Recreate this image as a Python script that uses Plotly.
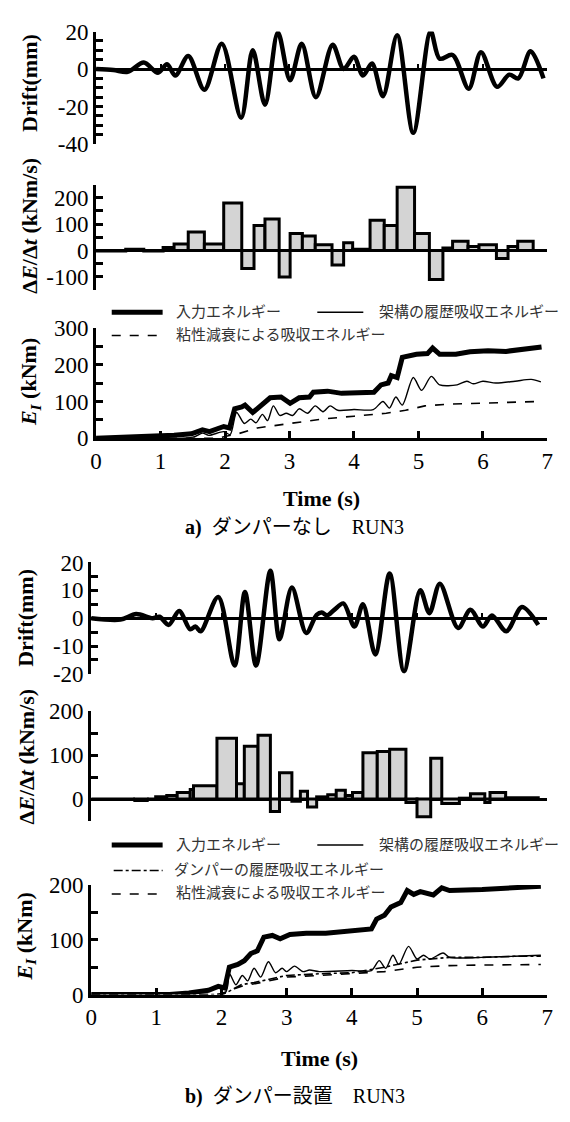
import plotly.graph_objects as go

W, H = 570, 1122

# ---------------- data: panel a (no damper) ----------------
a_drift_t = [0, 0.27, 0.49, 0.74, 0.96, 1.10, 1.23, 1.43, 1.68, 1.95, 2.25, 2.43, 2.62, 2.82, 3.01, 3.19, 3.41, 3.67,
             3.84, 4.00, 4.14, 4.28, 4.45, 4.67, 4.92, 5.19, 5.33, 5.53, 5.78, 5.97, 6.22, 6.41, 6.55, 6.74, 6.94]
a_drift_v = [0, -0.5, -1.5, 3.5, -2, 2.5, -3.5, 7, -11, 13.5, -26, 10, -19, 19.5, -6, 13.5, -15, 13,
             0, 6.5, -3.5, 3, -14.5, 18, -34, 20, 5.5, 7.5, -10.5, 9, -9.5, -3, -5, 9.5, -5]

a_de_edges = [0, 0.46, 0.74, 1.04, 1.21, 1.43, 1.68, 1.98, 2.26, 2.45, 2.62, 2.84, 3.01, 3.20, 3.40, 3.66, 3.84,
              3.98, 4.25, 4.47, 4.67, 4.94, 5.17, 5.38, 5.53, 5.77, 5.94, 6.21, 6.39, 6.54, 6.78]
a_de_vals = [-2, 5, -2, 12, 25, 70, 25, 180, -68, 95, 120, -100, 65, 55, 22, -55, 30, 5, 115, 95, 240, 65,
             -110, 10, 35, 15, 22, -30, 15, 35]

a_in_t = [0, 0.43, 0.93, 1.21, 1.48, 1.54, 1.65, 1.76, 1.87, 1.98, 2.07, 2.15, 2.26, 2.31, 2.43, 2.56, 2.70, 2.87,
          3.01, 3.15, 3.31, 3.37, 3.59, 3.81, 4.14, 4.31, 4.42, 4.53, 4.58, 4.67, 4.75, 4.97, 5.14, 5.22, 5.33,
          5.58, 5.80, 6.08, 6.36, 6.63, 6.91]
a_in_v = [0, 2, 4, 8, 12, 15, 23, 18, 24, 32, 28, 80, 85, 90, 70, 90, 110, 112, 95, 110, 112, 125, 128, 122, 122,
          125, 145, 150, 170, 165, 220, 228, 230, 245, 228, 228, 235, 238, 236, 243, 248]

a_str_t = [0, 1.5, 1.65, 1.75, 1.98, 2.08, 2.18, 2.30, 2.40, 2.48, 2.58, 2.66, 2.75, 2.85, 2.95, 3.05, 3.15, 3.28,
           3.40, 3.52, 3.63, 3.75, 4.0, 4.3, 4.45, 4.55, 4.65, 4.75, 4.92, 5.05, 5.20, 5.33, 5.6, 5.75, 5.85, 6.0,
           6.2, 6.5, 6.75, 6.9]
a_str_v = [0, 3, 14, 8, 18, 10, 70, 40, 52, 42, 65, 48, 88, 62, 68, 62, 80, 68, 88, 72, 88, 76, 78, 78, 100, 82,
           112, 90, 165, 130, 168, 145, 145, 155, 148, 155, 150, 155, 160, 153]

a_vis_t = [0, 1.9, 2.0, 2.2, 2.5, 3.0, 3.5, 4.0, 4.5, 4.8, 5.1, 5.5, 6.0, 6.5, 6.9]
a_vis_v = [0, 0, 5, 12, 28, 40, 52, 60, 68, 76, 88, 93, 96, 99, 100]

# ---------------- data: panel b (with damper) ----------------
b_drift_t = [0, 0.45, 0.69, 0.94, 1.05, 1.19, 1.35, 1.52, 1.60, 1.68, 1.95, 2.20, 2.36, 2.53, 2.75, 2.89, 3.08,
             3.30, 3.46, 3.54, 3.62, 3.73, 3.87, 4.04, 4.17, 4.36, 4.58, 4.80, 5.05, 5.19, 5.35, 5.63, 5.82, 6.01,
             6.15, 6.37, 6.61, 6.86]
b_drift_v = [0, -0.5, 1.5, 0, 0.5, -2.4, 2.6, -4, -3, -4.7, 7.6, -17, 9.4, -17, 17, -7.6, 11, -5.3, 1.2, 2, 1, 3,
             5.3, -3, 5, -13, 16, -19, 10, 1.8, 12.4, -3.5, 3, -3, 1, -4.7, 4, -2.4]

b_de_edges = [0, 0.67, 0.86, 0.99, 1.16, 1.32, 1.52, 1.57, 1.93, 2.23, 2.35, 2.56, 2.75, 2.89, 3.08, 3.21, 3.32,
              3.46, 3.63, 3.76, 3.90, 4.01, 4.17, 4.39, 4.58, 4.83, 5.00, 5.21, 5.38, 5.65, 5.82, 6.04, 6.12,
              6.36, 6.86]
b_de_vals = [0, -3, 0, 5, 8, 15, 22, 30, 138, 35, 120, 145, -28, 60, -5, 18, -18, 5, 10, 20, 8, 15, 105, 108,
             113, -8, -40, 93, -10, 2, 12, -8, 15, 3]

b_in_t = [0, 1.2, 1.5, 1.8, 1.95, 2.05, 2.12, 2.25, 2.35, 2.45, 2.55, 2.65, 2.78, 2.90, 3.05, 3.3, 3.6, 4.0, 4.3,
          4.38, 4.5, 4.6, 4.75, 4.85, 4.95, 5.05, 5.25, 5.38, 5.5, 6.0, 6.5, 6.9]
b_in_v = [0, 0, 3, 8, 15, 12, 50, 55, 62, 75, 80, 105, 108, 102, 110, 112, 112, 116, 120, 138, 145, 160, 168, 190,
          183, 188, 182, 195, 190, 192, 195, 198]

b_str_t = [0, 2.05, 2.12, 2.22, 2.32, 2.40, 2.50, 2.60, 2.72, 2.83, 2.93, 3.0, 3.12, 3.25, 3.35, 3.5, 4.0, 4.3,
           4.42, 4.52, 4.63, 4.72, 4.87, 5.0, 5.1, 5.2, 5.4, 5.5, 6.0, 6.5, 6.9]
b_str_v = [0, 2, 38, 18, 35, 25, 48, 32, 60, 40, 48, 42, 52, 42, 45, 42, 44, 44, 62, 48, 72, 55, 88, 65, 72, 65,
           76, 68, 68, 70, 72]

b_dmp_t = [0, 2.0, 2.1, 2.3, 2.5, 2.8, 3.0, 3.5, 4.0, 4.5, 4.8, 5.0, 5.5, 6.0, 6.5, 6.9]
b_dmp_v = [0, 0, 5, 18, 22, 30, 35, 38, 40, 50, 58, 63, 68, 68, 70, 70]

b_vis_t = [0, 1.9, 2.0, 2.3, 2.6, 3.0, 3.5, 4.0, 4.5, 5.0, 5.5, 6.0, 6.9]
b_vis_v = [0, 0, 2, 15, 22, 32, 35, 38, 42, 50, 53, 54, 55]

x_ticks = [0, 1, 2, 3, 4, 5, 6, 7]

legend_labels = ["入力エネルギー", "架構の履歴吸収エネルギー", "ダンパーの履歴吸収エネルギー", "粘性減衰による吸収エネルギー"]

SERIF = "Liberation Serif, Times New Roman, serif"
JP = "Noto Sans CJK JP"
TICKFONT = dict(family=SERIF, size=23, color="black")


def ydom(top_px, bot_px):
    return [1 - bot_px / H, 1 - top_px / H]


# panel layout: (x domain, y top px, y bottom px, y range)
xa = [92 / W, 553 / W]
xb = [87 / W, 553 / W]
panels = [
    (xa, 20, 135, [-40, 20]),
    (xa, 176.5, 284.5, [-150, 250]),
    (xa, 323, 436, [0, 300]),
    (xb, 563, 677, [-20, 20]),
    (xb, 715, 827.5, [-50, 200]),
    (xb, 893, 1005, [0, 200]),
]
ytick_spec = [
    ([-40, -20, 0, 20], 5),
    ([-100, 0, 100, 200], 50),
    ([0, 100, 200, 300], 50),
    ([-20, -10, 0, 10, 20], 5),
    ([0, 100, 200], 50),
    ([0, 100, 200], 50),
]

fig = go.Figure()


def mid_width(edges):
    c = [(edges[i] + edges[i + 1]) / 2 for i in range(len(edges) - 1)]
    w = [edges[i + 1] - edges[i] for i in range(len(edges) - 1)]
    return c, w


# drift lines
fig.add_trace(go.Scatter(x=a_drift_t, y=a_drift_v, mode="lines", xaxis="x", yaxis="y",
                         line=dict(color="black", width=4.5, shape="spline", smoothing=0.9)))
fig.add_trace(go.Scatter(x=b_drift_t, y=b_drift_v, mode="lines", xaxis="x4", yaxis="y4",
                         line=dict(color="black", width=4.5, shape="spline", smoothing=0.9)))

# dE/dt bars
for edges, vals, xax, yax in [(a_de_edges, a_de_vals, "x2", "y2"), (b_de_edges, b_de_vals, "x5", "y5")]:
    c, w = mid_width(edges)
    fig.add_trace(go.Bar(x=c, y=vals, width=w, xaxis=xax, yaxis=yax,
                         marker=dict(color="#d4d4d4", line=dict(color="black", width=3))))

# energy curves a
fig.add_trace(go.Scatter(x=a_vis_t, y=a_vis_v, mode="lines", xaxis="x3", yaxis="y3",
                         line=dict(color="black", width=1.6, dash="dash")))
fig.add_trace(go.Scatter(x=a_str_t, y=a_str_v, mode="lines", xaxis="x3", yaxis="y3",
                         line=dict(color="black", width=1.4, shape="spline", smoothing=0.8)))
fig.add_trace(go.Scatter(x=a_in_t, y=a_in_v, mode="lines", xaxis="x3", yaxis="y3",
                         line=dict(color="black", width=5)))
# energy curves b
fig.add_trace(go.Scatter(x=b_vis_t, y=b_vis_v, mode="lines", xaxis="x6", yaxis="y6",
                         line=dict(color="black", width=1.6, dash="dash")))
fig.add_trace(go.Scatter(x=b_dmp_t, y=b_dmp_v, mode="lines", xaxis="x6", yaxis="y6",
                         line=dict(color="black", width=1.6, dash="dashdot")))
fig.add_trace(go.Scatter(x=b_str_t, y=b_str_v, mode="lines", xaxis="x6", yaxis="y6",
                         line=dict(color="black", width=1.4, shape="spline", smoothing=0.8)))
fig.add_trace(go.Scatter(x=b_in_t, y=b_in_v, mode="lines", xaxis="x6", yaxis="y6",
                         line=dict(color="black", width=5)))

layout = dict(width=W, height=H, margin=dict(l=0, r=0, t=0, b=0), showlegend=False,
              paper_bgcolor="white", plot_bgcolor="white", barmode="overlay")

for i, (xd, top, bot, yr) in enumerate(panels):
    n = i + 1
    xk = "xaxis" if n == 1 else f"xaxis{n}"
    yk = "yaxis" if n == 1 else f"yaxis{n}"
    yanchor = "x" if n == 1 else f"x{n}"
    xanchor = "y" if n == 1 else f"y{n}"
    dom = ydom(top, bot)
    tv, minor = ytick_spec[i]
    layout[yk] = dict(domain=dom, range=yr, anchor=yanchor, showgrid=False,
                      showline=True, linecolor="black", linewidth=3, mirror=False,
                      ticks="inside", ticklen=7, tickwidth=2.5, tickcolor="black",
                      tickvals=tv, ticktext=[str(v) for v in tv], tickfont=TICKFONT,
                      minor=dict(dtick=minor, tick0=0, ticks="inside", ticklen=7, tickwidth=2.5,
                                 tickcolor="black", showgrid=False),
                      zeroline=(i % 3 != 2), zerolinecolor="black", zerolinewidth=2.5,
                      fixedrange=True)
    if i % 3 == 2:
        layout[xk] = dict(domain=xd, range=[0, 7], anchor=xanchor, showgrid=False, zeroline=False,
                          showline=True, linecolor="black", linewidth=3,
                          ticks="inside", ticklen=7, tickwidth=2.5, tickcolor="black",
                          tickvals=x_ticks, tickfont=TICKFONT)
    elif i % 3 == 0:
        # small ticks along the zero line
        pos = dom[0] + (0 - yr[0]) / (yr[1] - yr[0]) * (dom[1] - dom[0])
        layout[xk] = dict(domain=xd, range=[0, 7], anchor="free", position=pos, showgrid=False,
                          zeroline=False, showline=False, ticks="inside", ticklen=5, tickwidth=2,
                          tickcolor="black", tickvals=x_ticks, showticklabels=False)
    else:
        layout[xk] = dict(domain=xd, range=[0, 7], anchor=xanchor, visible=False)

annotations = []
shapes = []


def ytitle(text, ypx, xpx=24):
    annotations.append(dict(text=text, xref="paper", yref="paper", x=xpx / W, y=1 - ypx / H,
                            textangle=-90, showarrow=False, xanchor="center", yanchor="middle",
                            font=dict(family=SERIF, size=22, color="black")))


ytitle("<b>Drift(mm)</b>", 72)
ytitle("<b>Δ<i>E</i>/Δ<i>t</i> (kNm/s)</b>", 218)
ytitle("<b><i>E<sub>I</sub></i> (kNm)</b>", 378)
ytitle("<b>Drift(mm)</b>", 620, 20)
ytitle("<b>Δ<i>E</i>/Δ<i>t</i> (kNm/s)</b>", 762, 20)
ytitle("<b><i>E<sub>I</sub></i> (kNm)</b>", 946, 20)


def text(t, xpx, ypx, size, family=SERIF, anchor="center", color="black"):
    annotations.append(dict(text=t, xref="paper", yref="paper", x=xpx / W, y=1 - ypx / H,
                            showarrow=False, xanchor=anchor, yanchor="middle",
                            font=dict(family=family, size=size, color=color)))


text("<b>Time (s)</b>", 322, 498, 22)
text("<b>Time (s)</b>", 320, 1070, 22)
text("<b>a)</b>  ダンパーなし　RUN3", 295, 527, 20, family=SERIF + ", " + JP)
text("<b>b)</b>  ダンパー設置　RUN3", 295, 1109, 20, family=SERIF + ", " + JP)


def leg_line(x0, x1, ypx, width, dash="solid"):
    shapes.append(dict(type="line", xref="paper", yref="paper", x0=x0 / W, x1=x1 / W,
                       y0=1 - ypx / H, y1=1 - ypx / H, line=dict(color="black", width=width, dash=dash)))


# legend a
leg_line(108, 160, 307, 5)
text(legend_labels[0], 172, 305, 15, family=JP, anchor="left", color="#333")
leg_line(318, 365, 307, 1.5)
text(legend_labels[1], 379, 305, 15, family=JP, anchor="left", color="#333")
leg_line(108, 160, 331, 1.5, "dash")
text(legend_labels[3], 172, 329, 15, family=JP, anchor="left", color="#333")
# legend b
leg_line(108, 160, 852, 5)
text(legend_labels[0], 172, 850, 15, family=JP, anchor="left", color="#333")
leg_line(318, 365, 852, 1.5)
text(legend_labels[1], 379, 850, 15, family=JP, anchor="left", color="#333")
leg_line(110, 160, 878, 1.5, "dashdot")
text(legend_labels[2], 170, 876, 15, family=JP, anchor="left", color="#333")
leg_line(108, 160, 902, 1.5, "dash")
text(legend_labels[3], 172, 900, 15, family=JP, anchor="left", color="#333")

layout["annotations"] = annotations
layout["shapes"] = shapes
fig.update_layout(**layout)
fig.write_html("out.html")
